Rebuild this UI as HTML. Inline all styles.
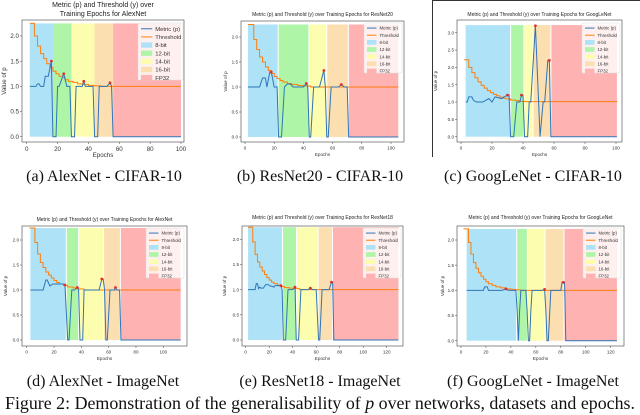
<!DOCTYPE html>
<html><head><meta charset="utf-8"><style>
html,body{margin:0;padding:0;background:#fff;}
svg{display:block;}
</style></head><body>
<svg id="fig" width="640" height="415" viewBox="0 0 640 415" xmlns="http://www.w3.org/2000/svg">
<rect x="0" y="0" width="640" height="415" fill="#fff"/>
<g><line x1="432" y1="0.5" x2="640" y2="0.5" stroke="#333" stroke-width="1"/><line x1="432.5" y1="0" x2="432.5" y2="157" stroke="#333" stroke-width="1"/></g>
</svg>
<script>
// ---- data (epochs / values) ----
const regionNames = ["8-bit","12-bit","14-bit","16-bit","FP32"];
const aBounds = [2,17,29,44,56,100];
const aEp  = [2,6,7,8,9,11,12,14,16,17,19,20,21,24,26,27,28,29,31,32,36,37,38,43,44,46,47,52,54,55,56,100];
const aVal = [1.0,1.0,1.05,1.05,1.0,1.0,1.2,1.2,1.5,0,0,1.0,1.0,1.25,1.0,1.0,1.0,0,0,1.0,1.0,1.1,1.0,1.0,0,0,1.0,1.0,1.07,1.0,0,0];
const aThrEp = [2,3,5,7,9,11,13,15,17,19,21,23,25,27,30,33,36,40,44,48,100];
const aThr   = [2.25,2.25,2.0,1.8,1.65,1.55,1.45,1.38,1.3,1.25,1.2,1.17,1.13,1.1,1.08,1.05,1.04,1.02,1.01,1.0,1.0];
const aPeakEp = [16,24,37,54];
const aPeakVal = [1.5,1.25,1.1,1.07];

const bBounds = [2,22.7,43.8,56,70.8,105];
const bEp  = [2,10,12,14,15,17,18,20,22,23,25,27,29,31,33,40,42,43,44,45,47,51,54,55,56,57,59,64,66,68,70,71,105];
const bVal = [1.0,1.0,1.18,1.18,1.0,1.3,1.3,1.0,1.0,0,0,1.0,1.06,1.06,1.0,1.0,1.07,1.0,0,0,1.0,1.0,1.33,1.0,0,0,1.0,1.0,1.05,1.0,1.0,0,0];
const bThrEp = [2,4,6,8,10,12,14,16,18,20,22,24,26,29,32,36,40,45,105];
const bThr   = [2.25,2.25,1.95,1.75,1.6,1.5,1.4,1.33,1.27,1.21,1.17,1.13,1.1,1.07,1.05,1.03,1.02,1.0,1.0];
const bPeakEp = [18,42,54,66];
const bPeakVal = [1.3,1.07,1.33,1.05];

const cBounds = [3,32,40.6,46.5,58,100.6];
const cEp  = [3,4,5,7,8,10,14,16,18,20,22,26,28,30,31,32,34,36,38,39,40,41,43,44,45,48,51,53,54,56,57,58,100.6];
const cVal = [1.0,1.0,1.15,1.15,1.05,1.0,1.0,1.05,1.1,1.0,1.15,1.1,1.15,1.2,1.2,0,0,1.0,1.0,1.2,1.2,0,0,1.0,1.0,3.2,0,1.0,1.0,2.2,2.2,0,0];
const cThrEp = [2,3,5,7,9,11,13,15,17,19,21,23,25,27,29,32,35,38,41,100.6];
const cThr   = [2.22,2.22,2.0,1.85,1.7,1.58,1.48,1.4,1.33,1.27,1.22,1.18,1.14,1.11,1.09,1.06,1.04,1.02,1.01,1.0];
const cPeakEp = [30,39,48,57];
const cPeakVal = [1.2,1.2,3.2,2.2];

const dBounds = [2.7,29,38,56.3,68.6,112.7];
const dEp  = [2.7,12,14,15,17,19,27,28,30,31,33,35,37,38,39,41,42,53,55,56,57,58,59,61,64,65,66,67,68,69,112.7];
const dVal = [1.0,1.0,1.2,1.2,1.08,1.12,1.12,1.1,0,0,1.0,1.0,1.05,1.0,0,0,1.0,1.0,1.22,1.22,1.0,0,0,1.0,1.0,1.05,1.0,1.0,1.0,0,0];
const dThrEp = [2,4,6,8,10,12,14,16,18,20,22,24,27,30,34,38,42,112.7];
const dThr   = [2.24,2.24,1.95,1.72,1.55,1.45,1.36,1.3,1.24,1.19,1.15,1.12,1.09,1.06,1.04,1.02,1.0,1.0];
const dPeakEp = [28,37,55,65];
const dPeakVal = [1.1,1.05,1.22,1.05];

const eBounds = [2,31.3,43.2,61.6,73.8,130];
const eEp  = [2,8,9,10,11,12,13,15,17,19,21,22,24,25,30,31,32,34,36,40,42,43,45,47,53,55,57,60,62,63,65,71,73,74,75,130];
const eVal = [1.0,1.0,1.12,1.12,1.02,1.05,1.03,1.03,1.1,1.1,1.07,1.07,1.05,1.08,1.08,1.0,0,0,1.0,1.0,1.05,0,0,1.0,1.0,1.03,1.0,1.0,0,0,1.0,1.0,1.15,1.15,0,0];
const eThrEp = [2,4,6,8,10,12,14,16,18,20,22,24,27,30,33,37,41,46,130];
const eThr   = [2.24,2.24,1.95,1.7,1.55,1.45,1.37,1.3,1.24,1.19,1.15,1.12,1.09,1.06,1.04,1.03,1.02,1.0,1.0];
const ePeakEp = [30,42,55,73];
const ePeakVal = [1.08,1.05,1.03,1.15];

const fBounds = [4.5,44.6,53.2,67.4,82.6,125];
const fEp  = [4.5,18,19,21,22,33,36,38,44,45,46,47,48,52,53,54,55,56,57,65,67,68,69,70,72,80,81,83,84,85,125];
const fVal = [1.0,1.0,1.07,1.07,1.0,1.0,1.03,1.0,1.0,0.6,0,0.6,1.0,1.0,0.6,0,0,0.6,1.0,1.0,1.02,0.6,0,0,1.0,1.0,1.16,1.16,0,0,0];
const fThrEp = [2,4,6,8,10,12,14,16,18,20,22,25,28,32,36,40,44,48,125];
const fThr   = [2.22,2.22,1.95,1.72,1.55,1.44,1.35,1.28,1.22,1.17,1.13,1.1,1.07,1.05,1.03,1.02,1.01,1.0,1.0];
const fPeakEp = [36,67,82];
const fPeakVal = [1.03,1.02,1.16];

const yTicksSmall = [0,0.5,1.0,1.5,2.0];
const yTicksC = [0,0.5,1.0,1.5,2.0,2.5,3.0];
const xTicks100 = [0,20,40,60,80,100];
const xTicks120 = [0,20,40,60,80,100,120];

// ---- layout ----
const charts = [
 {id:"a",title:["Metric (p) and Threshold (y) over","Training Epochs for AlexNet"],titleY:[7,16],fs:6.2,tfs:7,
  box:[22,20,184,142],x0:26.7,x1:181,xd:[0,100],y0:136.7,y1:36,yd:[0,2],ymax:2.25,ylabX:6,xlabY:157,
  bounds:aBounds,ep:aEp,val:aVal,thrEp:aThrEp,thr:aThr,pe:aPeakEp,pv:aPeakVal,yt:yTicksSmall,xt:xTicks100,
  leg:[138,23,45,57],white:false,cap:"(a) AlexNet - CIFAR-10",capX:104,capY:181},
 {id:"b",title:["Metric (p) and Threshold (y) over Training Epochs for ResNet20"],titleY:[16],fs:4.6,tfs:5,
  box:[241,21,404,142],x0:245,x1:391,xd:[0,100],y0:137,y1:37,yd:[0,2],ymax:2.25,ylabX:227,xlabY:156,
  bounds:bBounds,ep:bEp,val:bVal,thrEp:bThrEp,thr:bThr,pe:bPeakEp,pv:bPeakVal,yt:yTicksSmall,xt:xTicks100,
  leg:[364,23,38,50],white:true,cap:"(b) ResNet20 - CIFAR-10",capX:320,capY:181},
 {id:"c",title:["Metric (p) and Threshold (y) over Training Epochs for GoogLeNet"],titleY:[16],fs:4.6,tfs:5,
  box:[457,20,622,142],x0:461,x1:616,xd:[0,100],y0:136.7,y1:32.7,yd:[0,3],ymax:3.22,ylabX:437,xlabY:156,
  bounds:cBounds,ep:cEp,val:cVal,thrEp:cThrEp,thr:cThr,pe:cPeakEp,pv:cPeakVal,yt:yTicksC,xt:xTicks100,
  leg:[582,23,38,50],white:true,cap:"(c) GoogLeNet - CIFAR-10",capX:533,capY:181},
 {id:"d",title:["Metric (p) and Threshold (y) over Training Epochs for AlexNet"],titleY:[221],fs:4.6,tfs:5,
  box:[22,226,187,346],x0:26.7,x1:163.3,xd:[0,100],y0:340,y1:240,yd:[0,2],ymax:2.24,ylabX:7,xlabY:360,
  bounds:dBounds,ep:dEp,val:dVal,thrEp:dThrEp,thr:dThr,pe:dPeakEp,pv:dPeakVal,yt:yTicksSmall,xt:xTicks100,
  leg:[146,228,38,50],white:true,cap:"(d) AlexNet - ImageNet",capX:103,capY:386},
 {id:"e",title:["Metric (p) and Threshold (y) over Training Epochs for ResNet18"],titleY:[219],fs:4.6,tfs:5,
  box:[242,226,403,346],x0:245.7,x1:386.7,xd:[0,120],y0:340,y1:239.3,yd:[0,2],ymax:2.24,ylabX:226,xlabY:360,
  bounds:eBounds,ep:eEp,val:eVal,thrEp:eThrEp,thr:eThr,pe:ePeakEp,pv:ePeakVal,yt:yTicksSmall,xt:xTicks120,
  leg:[363,228,38,50],white:true,cap:"(e) ResNet18 - ImageNet",capX:320,capY:386},
 {id:"f",title:["Metric (p) and Threshold (y) over Training Epochs for GoogLeNet"],titleY:[219],fs:4.6,tfs:5,
  box:[457,226,624,346],x0:461,x1:610.7,xd:[0,120],y0:340.7,y1:240,yd:[0,2],ymax:2.22,ylabX:444,xlabY:360,
  bounds:fBounds,ep:fEp,val:fVal,thrEp:fThrEp,thr:fThr,pe:fPeakEp,pv:fPeakVal,yt:yTicksSmall,xt:xTicks120,
  leg:[583,228,38,50],white:true,cap:"(f) GoogLeNet - ImageNet",capX:533,capY:386}
];
const regionColors = ["#aee3f7","#aef5a8","#fdfdb0","#fbdfb0","#ffb2b2"];
const NS = "http://www.w3.org/2000/svg";
const svg = document.getElementById("fig");
function mk(tag, attrs, parent){
  const el = document.createElementNS(NS, tag);
  for (const k in attrs) el.setAttribute(k, attrs[k]);
  parent.appendChild(el);
  return el;
}
charts.forEach(c => {
  const X = v => c.x0 + (v - c.xd[0]) * (c.x1 - c.x0) / (c.xd[1] - c.xd[0]);
  const Y = v => c.y0 + (v - c.yd[0]) * (c.y1 - c.y0) / (c.yd[1] - c.yd[0]);
  const g = mk("g", {}, svg);
  
  
  const [L,T,R,B] = c.box;
  for (let i = 0; i < 5; i++) {
    const r = mk("rect", {x: X(c.bounds[i]), y: Y(c.ymax), width: X(c.bounds[i+1]) - X(c.bounds[i]), height: Y(0) - Y(c.ymax), fill: regionColors[i]}, g);
    
    
    if (c.white && i > 0) mk("line", {x1: X(c.bounds[i]), x2: X(c.bounds[i]), y1: Y(c.ymax), y2: Y(0), stroke: "#fff", "stroke-width": 1}, g);
  }
  let tp = "";
  c.thrEp.forEach((e, i) => {
    if (i === 0) tp += "M" + X(e) + "," + Y(c.thr[i]);
    else tp += " H" + X(e) + " V" + Y(c.thr[i]);
  });
  const th = mk("path", {d: tp, fill: "none", stroke: "#ff7f0e", "stroke-width": 1}, g);
  
  
  const pts = c.ep.map((e, i) => X(e) + "," + Y(c.val[i])).join(" ");
  const ml = mk("polyline", {points: pts, fill: "none", stroke: "#2f74b8", "stroke-width": 1}, g);
  
  
  c.pe.forEach((e, i) => {
    const m = mk("circle", {cx: X(e), cy: Y(c.pv[i]), r: 1.4, fill: "#e0302a"}, g);
    
    
  });
  const fr = mk("rect", {x: L, y: T, width: R - L, height: B - T, fill: "none", stroke: "#444", "stroke-width": 0.6}, g);
  
  
  c.xt.forEach(t => {
    mk("line", {x1: X(t), x2: X(t), y1: B, y2: B + 2, stroke: "#444", "stroke-width": 0.5}, g);
    const tx = mk("text", {x: X(t), y: B + 3 + c.fs, "font-size": c.fs, "text-anchor": "middle", fill: "#333", "font-family": "Liberation Sans, sans-serif"}, g);
    tx.textContent = t;
    
    
  });
  c.yt.forEach(t => {
    mk("line", {x1: L - 2, x2: L, y1: Y(t), y2: Y(t), stroke: "#444", "stroke-width": 0.5}, g);
    const ty = mk("text", {x: L - 3, y: Y(t) + c.fs * 0.35, "font-size": c.fs, "text-anchor": "end", fill: "#333", "font-family": "Liberation Sans, sans-serif"}, g);
    ty.textContent = t.toFixed(1);
    
    
  });
  const xl = mk("text", {x: (L + R) / 2, y: c.xlabY, "font-size": c.fs, "text-anchor": "middle", fill: "#333", "font-family": "Liberation Sans, sans-serif"}, g);
  xl.textContent = "Epochs";
  
  
  const yl = mk("text", {x: 0, y: 0, "font-size": c.fs, "text-anchor": "middle", fill: "#333", "font-family": "Liberation Sans, sans-serif", transform: "translate(" + c.ylabX + "," + ((T + B) / 2) + ") rotate(-90)"}, g);
  yl.textContent = "Value of p";
  
  
  c.title.forEach((line, i) => {
    const t = mk("text", {x: (L + R) / 2, y: c.titleY[i], "font-size": c.tfs, "text-anchor": "middle", fill: "#222", "font-family": "Liberation Sans, sans-serif"}, g);
    t.textContent = line;
    
    
  });
  const [lx, ly, lw, lh] = c.leg;
  const lg = mk("g", {}, g);
  
  
  mk("rect", {x: lx, y: ly, width: lw, height: lh, fill: "rgba(255,255,255,0.8)", stroke: "#ddd", "stroke-width": 0.5, rx: 1}, lg);
  const rh = lh / 7;
  const entries = ["Metric (p)", "Threshold"].concat(regionNames);
  entries.forEach((name, i) => {
    const cy = ly + rh * (i + 0.5) + lh * 0.03;
    const sx = lx + 3, sw = lw * 0.25;
    if (i === 0) mk("line", {x1: sx, x2: sx + sw, y1: cy, y2: cy, stroke: "#2f74b8", "stroke-width": 1}, lg);
    else if (i === 1) mk("line", {x1: sx, x2: sx + sw, y1: cy, y2: cy, stroke: "#ff7f0e", "stroke-width": 1}, lg);
    else mk("rect", {x: sx, y: cy - rh * 0.33, width: sw, height: rh * 0.66, fill: regionColors[i - 2]}, lg);
    const t = mk("text", {x: sx + sw + 3, y: cy + c.fs * 0.35, "font-size": c.fs * 0.95, fill: "#333", "font-family": "Liberation Sans, sans-serif"}, lg);
    t.textContent = name;
    
    
  });
  const cap = mk("text", {x: c.capX, y: c.capY, "font-size": 16, "text-anchor": "middle", fill: "#111", "font-family": "Liberation Serif, serif"}, svg);
  cap.textContent = c.cap;
  
  
});
const fc = mk("text", {x: 5, y: 409, "font-size": 17.5, "textLength": 630, "lengthAdjust": "spacingAndGlyphs", fill: "#111", "font-family": "Liberation Serif, serif"}, svg);


fc.innerHTML = 'Figure 2: Demonstration of the generalisability of <tspan font-style="italic">p</tspan> over networks, datasets and epochs.';
</script>
</body></html>
